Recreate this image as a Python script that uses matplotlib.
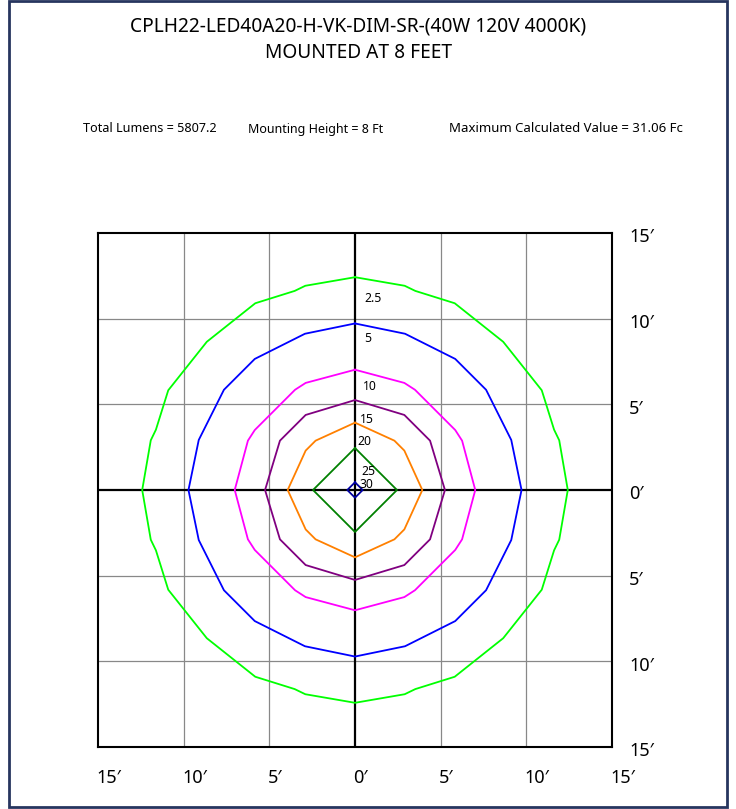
import matplotlib
matplotlib.use("Agg")
import matplotlib.pyplot as plt
from matplotlib.patches import Rectangle

plt.rcParams['font.family'] = ['Noto Sans', 'DejaVu Sans']

title = "CPLH22-LED40A20-H-VK-DIM-SR-(40W 120V 4000K)\nMOUNTED AT 8 FEET"
info_texts = ["Total Lumens = 5807.2", "Mounting Height = 8 Ft",
              "Maximum Calculated Value = 31.06 Fc"]

# iso-footcandle levels and their line colours
levels = [2.5, 5, 10, 15, 20, 25, 30]
level_labels = ["2.5", "5", "10", "15", "20", "25", "30"]
colors = ['#00ff00', '#0000ff', '#ff00ff', '#800080', '#ff8000', '#008000', '#0000a0']

# one quadrant of each contour (feet), from the top point round to the right point
quad_x = [
    [0, 2.90, 3.52, 5.82, 8.65, 10.90, 11.62, 11.92, 12.42],
    [0, 2.92, 5.85, 7.65, 9.12, 9.72],
    [0, 2.88, 3.50, 5.85, 6.25, 7.02],
    [0, 2.88, 4.38, 5.25],
    [0, 2.30, 2.88, 3.93],
    [0, 2.45],
    [0, 0.45],
]
quad_y = [
    [12.42, 11.92, 11.62, 10.90, 8.65, 5.82, 3.52, 2.90, 0],
    [9.72, 9.12, 7.65, 5.85, 2.92, 0],
    [7.02, 6.25, 5.85, 3.50, 2.88, 0],
    [5.25, 4.38, 2.88, 0],
    [3.93, 2.88, 2.30, 0],
    [2.45, 0],
    [0.45, 0],
]
label_x = [0.55, 0.55, 0.45, 0.3, 0.15, 0.35, 0.25]
label_y = [11.18, 8.85, 6.03, 4.09, 2.83, 1.08, 0.32]

ticks = [15, 10, 5, 0, -5, -10, -15]

fig = plt.figure(figsize=(7.36, 8.09), dpi=100)
ax = fig.add_axes([98 / 736, 62 / 809, 514 / 736, 514 / 809])

for t in [-10, -5, 5, 10]:
    ax.axvline(t, color='#888888', lw=0.9, zorder=1)
    ax.axhline(t, color='#888888', lw=0.9, zorder=1)
ax.axvline(0, color='black', lw=1.6, zorder=1)
ax.axhline(0, color='black', lw=1.6, zorder=1)

for qx, qy, c in zip(quad_x, quad_y, colors):
    xs = list(qx) + [x for x in qx[::-1]][1:] + [-x for x in qx][1:] + [-x for x in qx[::-1]][1:]
    ys = list(qy) + [-y for y in qy[::-1]][1:] + [-y for y in qy][1:] + [y for y in qy[::-1]][1:]
    ax.plot(xs, ys, color=c, lw=1.3, zorder=2)

for lx, ly, lab in zip(label_x, label_y, level_labels):
    ax.text(lx, ly, lab, fontsize=8.8, ha='left', va='center', zorder=3)

ax.set_xlim(-15, 15)
ax.set_ylim(-15, 15)
ax.set_xticks([])
ax.set_yticks([])
for s in ax.spines.values():
    s.set_linewidth(1.5)
    s.set_color('black')

# axis labels drawn as text next to the grid lines
for t in ticks:
    ax.text(16.0, t - 0.25, f"{abs(t)}\u2032", fontsize=13, ha='left', va='center', clip_on=False)
    ax.text(-t - 0.1, -16.8, f"{abs(t)}\u2032", fontsize=13, ha='left', va='center', clip_on=False)

fig.text(0.487, 1 - 40 / 809, title, ha='center', va='center', fontsize=13.8,
         linespacing=1.45)
fig.text(83 / 736, 1 - 129 / 809, info_texts[0], ha='left', va='center', fontsize=9.1)
fig.text(248 / 736, 1 - 129 / 809, info_texts[1], ha='left', va='center', fontsize=9)
fig.text(449 / 736, 1 - 129 / 809, info_texts[2], ha='left', va='center', fontsize=9.5)

fig.patches.append(Rectangle((9 / 736, 2 / 809), 718 / 736, 806 / 809,
                             transform=fig.transFigure, fill=False,
                             edgecolor='#27355f', lw=2))

fig.savefig("out.png", dpi=100)
